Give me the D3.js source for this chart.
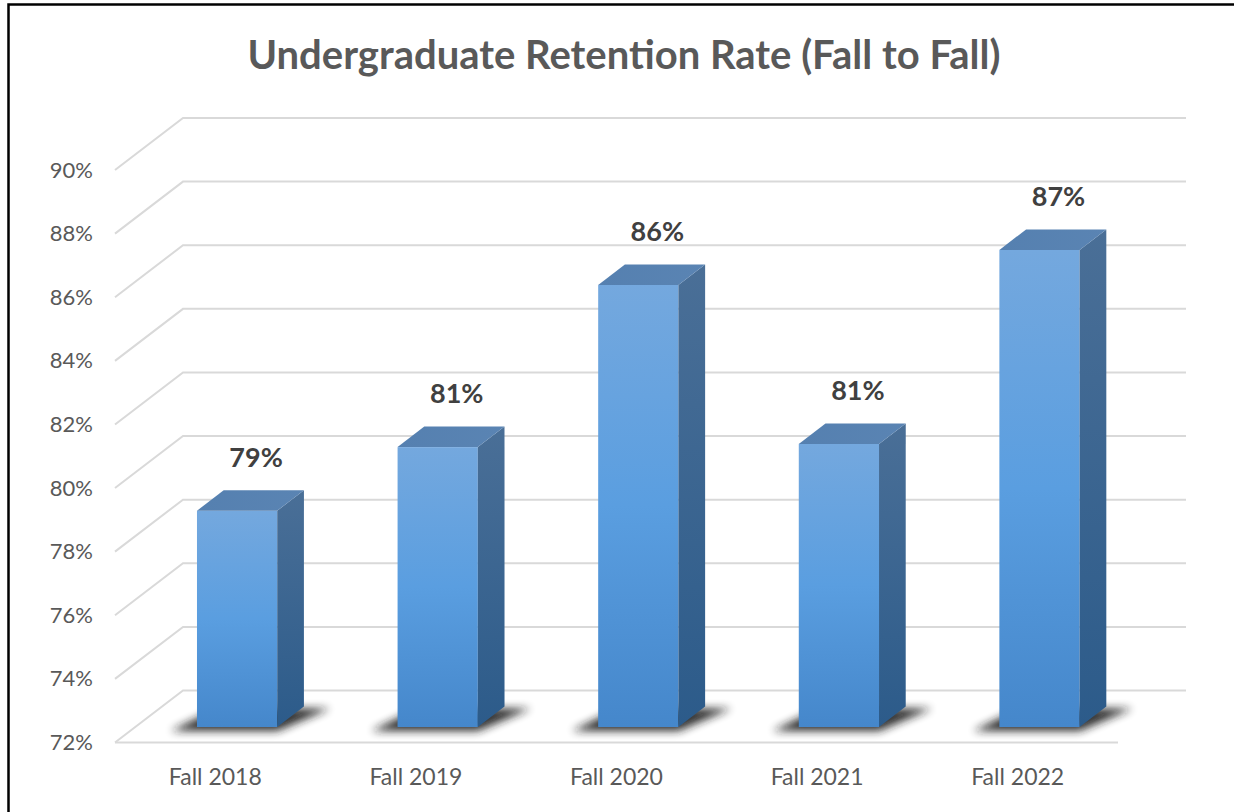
<!DOCTYPE html>
<html><head><meta charset="utf-8">
<script src="https://cdn.jsdelivr.net/npm/d3@7"></script>
<style>body{margin:0;background:#fff} svg{display:block;font-family:Lato,"Open Sans",sans-serif}</style>
</head><body>
<svg id="c" width="1234" height="812"></svg>
<script>
const categories = ["Fall 2018","Fall 2019","Fall 2020","Fall 2021","Fall 2022"];
const retention = [78.8, 80.8, 85.9, 80.9, 87.0];
const tickValues = [72,74,76,78,80,82,84,86,88,90];
const yDomain = [72, 90];
const title = "Undergraduate Retention Rate (Fall to Fall)";

const svg = d3.select("#c");
const W = 1234, H = 812;
svg.append("rect").attr("width",W).attr("height",H).attr("fill","#fff");

// geometry
const fx0 = 115, fx1 = 1118;         // front plot extent
const DX = 68, DY = -52;             // full depth vector
const y = d3.scaleLinear().domain(yDomain).range([742.5, 170]);
const x = d3.scaleBand().domain(categories).range([fx0, fx1]).paddingInner(0.6).paddingOuter(0.3);
const d0 = {dx: 21.8, dy: -15.5};    // bar front face offset
const d1 = {dx: 48.5, dy: -36};      // bar back face offset

const defs = svg.append("defs");
const gF = defs.append("linearGradient").attr("id","gFront").attr("x1",0).attr("y1",0).attr("x2",0).attr("y2",1);
gF.append("stop").attr("offset","0%").attr("stop-color","#74a8de");
gF.append("stop").attr("offset","50%").attr("stop-color","#5a9ee0");
gF.append("stop").attr("offset","100%").attr("stop-color","#4587cb");
const gS = defs.append("linearGradient").attr("id","gSide").attr("x1",0).attr("y1",0).attr("x2",0).attr("y2",1);
gS.append("stop").attr("offset","0%").attr("stop-color","#4a6f97");
gS.append("stop").attr("offset","100%").attr("stop-color","#2c5b8a");
const gT = defs.append("linearGradient").attr("id","gTop").attr("x1",0).attr("y1",0).attr("x2",1).attr("y2",0);
gT.append("stop").attr("offset","0%").attr("stop-color","#5580b0");
gT.append("stop").attr("offset","100%").attr("stop-color","#5a84b3");
defs.append("filter").attr("id","blur").attr("x","-50%").attr("y","-50%").attr("width","200%").attr("height","200%")
  .append("feGaussianBlur").attr("stdDeviation",4);

// gridlines: left wall diagonal + back wall horizontal
const grid = svg.append("g").attr("stroke","#d9d9d9").attr("stroke-width",2).attr("fill","none");
tickValues.forEach(v => {
  grid.append("path").attr("d", `M${fx0},${y(v)}L${fx0+DX},${y(v)+DY}L${fx1+DX},${y(v)+DY}`);
});
// floor front edge
grid.append("path").attr("d", `M${fx0},${y(yDomain[0])}L${fx1},${y(yDomain[0])}`);

// y axis labels
const yAxis = svg.append("g").attr("transform",`translate(${fx0-22},0)`)
  .call(d3.axisLeft(y).tickValues(tickValues).tickSize(0).tickPadding(0).tickFormat(d => d + "%"));
yAxis.select(".domain").remove();
yAxis.selectAll("text").attr("fill","#595959").style("font-size","22px").style("font-family","Lato,'Open Sans',sans-serif");

// x axis labels
const xAxis = svg.append("g").attr("transform",`translate(0,${y(yDomain[0])})`)
  .call(d3.axisBottom(x).tickSize(0).tickPadding(0));
xAxis.select(".domain").remove();
xAxis.selectAll("text").attr("fill","#595959").attr("dy",null).attr("y",42)
  .style("font-size","23px").style("font-family","Lato,'Open Sans',sans-serif");

const base = y(yDomain[0]);
const data = categories.map((c,i) => ({c, v: retention[i]}));

// shadows
svg.append("g").selectAll("path").data(data).join("path")
  .attr("filter","url(#blur)").attr("fill","#1a1a1a").attr("opacity",0.9)
  .attr("d", d => {
    const L = x(d.c) + d0.dx, R = L + x.bandwidth();
    const yb = base + d0.dy + 4, yk = base + d1.dy + 2;
    return `M${L-26},${yb}L${R},${yb}L${R+(d1.dx-d0.dx)+26},${yk}L${L+20},${yk}Z`;
  });

// bars
const bars = svg.append("g").selectAll("g").data(data).join("g");
bars.each(function(d){
  const g = d3.select(this);
  const L = x(d.c) + d0.dx, R = L + x.bandwidth();
  const top = y(d.v) + d0.dy, bot = base + d0.dy;
  const ddx = d1.dx - d0.dx, ddy = d1.dy - d0.dy;
  g.append("rect").attr("x",L).attr("y",top).attr("width",R-L).attr("height",bot-top).attr("fill","url(#gFront)");
  g.append("path").attr("fill","url(#gSide)")
    .attr("d",`M${R},${top}L${R+ddx},${top+ddy}L${R+ddx},${bot+ddy}L${R},${bot}Z`);
  g.append("path").attr("fill","url(#gTop)")
    .attr("d",`M${L},${top}L${R},${top}L${R+ddx},${top+ddy}L${L+ddx},${top+ddy}Z`);
});

// data labels
svg.append("g").selectAll("text").data(data).join("text")
  .attr("x", d => x(d.c) + d0.dx + x.bandwidth()/2 + 19)
  .attr("y", d => y(d.v) + d0.dy - 44)
  .attr("text-anchor","middle").attr("fill","#404040")
  .style("font-size","27px").style("font-weight","bold")
  .text(d => Math.round(d.v) + "%");

// title
const t = svg.append("text").attr("x",624).attr("y",69).attr("text-anchor","middle")
  .attr("fill","#595959").style("font-size","40px").style("font-weight","bold").text(title);
const tw = t.node().getComputedTextLength();
t.style("font-size", (40*753/tw).toFixed(2)+"px");

// border (top and left)
svg.append("path").attr("d","M8.5,812L8.5,4.5L1234,4.5").attr("fill","none").attr("stroke","#000").attr("stroke-width",2.5);
</script>
</body></html>
